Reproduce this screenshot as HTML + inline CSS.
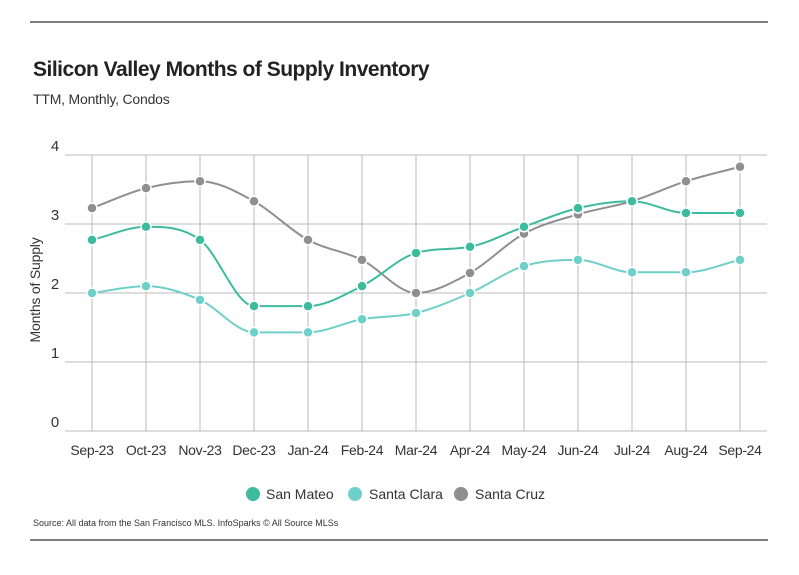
<!DOCTYPE html>
<html><head><meta charset="utf-8"><style>
body{margin:0;background:#fff;font-family:"Liberation Sans",sans-serif}
svg{display:block}
</style></head><body>
<svg id="c" width="799" height="575">
<line x1="30" y1="22" x2="768" y2="22" stroke="#333" stroke-width="1.2"/>
<text x="33" y="76" font-size="21" font-weight="bold" fill="#222" letter-spacing="-0.5">Silicon Valley Months of Supply Inventory</text>
<text x="33" y="104" font-size="14" fill="#333" letter-spacing="-0.2">TTM, Monthly, Condos</text>
<text transform="translate(40,290) rotate(-90)" text-anchor="middle" font-size="14" fill="#333" letter-spacing="-0.2">Months of Supply</text>
<g id="grid"></g><g id="lines"></g><g id="pts"></g>
<g>
<g><circle cx="253" cy="494" r="7" fill="#3dbb9f"/><text x="266" y="499" font-size="14" fill="#333">San Mateo</text></g>
<g><circle cx="355" cy="494" r="7" fill="#6fcfc9"/><text x="369" y="499" font-size="14" fill="#333">Santa Clara</text></g>
<g><circle cx="461" cy="494" r="7" fill="#8f8f8f"/><text x="475" y="499" font-size="14" fill="#333">Santa Cruz</text></g>
</g>
<text x="33" y="526" font-size="9" fill="#333">Source:  All data from the San Francisco MLS. InfoSparks © All Source MLSs</text>
<line x1="30" y1="540" x2="768" y2="540" stroke="#333" stroke-width="1.2"/>
</svg>
<script>
const categories=["Sep-23","Oct-23","Nov-23","Dec-23","Jan-24","Feb-24","Mar-24","Apr-24","May-24","Jun-24","Jul-24","Aug-24","Sep-24"];
const sanMateo=[2.77,2.96,2.77,1.81,1.81,2.1,2.58,2.67,2.96,3.23,3.33,3.16,3.16];
const santaClara=[2.0,2.1,1.9,1.43,1.43,1.62,1.71,2.0,2.39,2.48,2.3,2.3,2.48];
const santaCruz=[3.23,3.52,3.62,3.33,2.77,2.48,2.0,2.29,2.86,3.14,3.33,3.62,3.83];
const yTicks=[0,1,2,3,4];
const NS="http://www.w3.org/2000/svg";
const xS=i=>92+i*54, yS=v=>431-v*69;
function mk(t,a,p){const e=document.createElementNS(NS,t);for(const k in a)e.setAttribute(k,a[k]);p.appendChild(e);return e;}
const grid=document.getElementById('grid');
yTicks.forEach(v=>{
 const l=mk('line',{x1:65,x2:767,y1:yS(v),y2:yS(v),stroke:'#bbb','stroke-width':1},grid);
 
 
 const t=mk('text',{x:55,y:yS(v)-4,'font-size':15,fill:'#333','text-anchor':'middle'},grid);t.textContent=v;
 
 
});
categories.forEach((c,i)=>{
 const l=mk('line',{x1:xS(i),x2:xS(i),y1:yS(4),y2:yS(0),stroke:'#bbb','stroke-width':1},grid);
 
 
 const t=mk('text',{x:xS(i),y:455,'font-size':14,fill:'#333','text-anchor':'middle','letter-spacing':'-0.3'},grid);t.textContent=c;
 
 
});
function mono(pts){
 const n=pts.length,d=[],m=[];
 for(let i=0;i<n-1;i++)d.push((pts[i+1][1]-pts[i][1])/(pts[i+1][0]-pts[i][0]));
 m[0]=d[0];m[n-1]=d[n-2];
 for(let i=1;i<n-1;i++)m[i]=(d[i-1]*d[i]<=0)?0:(d[i-1]+d[i])/2;
 for(let i=0;i<n-1;i++){if(d[i]===0){m[i]=0;m[i+1]=0;continue;}const a=m[i]/d[i],b=m[i+1]/d[i],s=a*a+b*b;if(s>9){const t=3/Math.sqrt(s);m[i]=t*a*d[i];m[i+1]=t*b*d[i];}}
 let p=`M${pts[0][0]},${pts[0][1]}`;
 for(let i=0;i<n-1;i++){const h=(pts[i+1][0]-pts[i][0])/3;p+=` C${pts[i][0]+h},${pts[i][1]+m[i]*h} ${pts[i+1][0]-h},${pts[i+1][1]-m[i+1]*h} ${pts[i+1][0]},${pts[i+1][1]}`;}
 return p;
}
const series=[["santa-cruz",santaCruz,"#8f8f8f"],["santa-clara",santaClara,"#6fcfc9"],["san-mateo",sanMateo,"#3dbb9f"]];
const L=document.getElementById('lines'),P=document.getElementById('pts');
series.forEach(([n,vals,col])=>{
 const pts=vals.map((v,i)=>[xS(i),yS(v)]);
 const path=mk('path',{d:mono(pts),fill:'none',stroke:col,'stroke-width':2},L);
 
 
 pts.forEach(p=>{
  const c=mk('circle',{cx:p[0],cy:p[1],r:5,fill:col,stroke:'#fff','stroke-width':1.5},P);
  
  
 });
});
</script>
</body></html>
